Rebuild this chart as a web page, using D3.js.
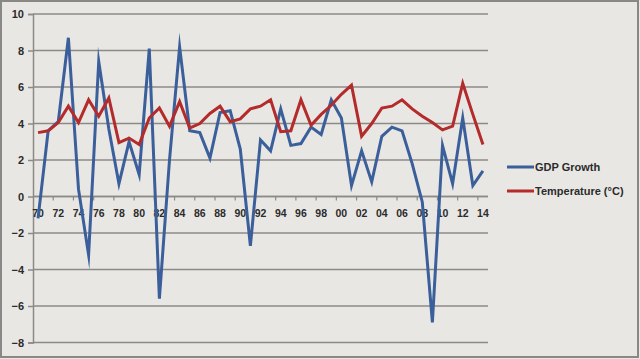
<!DOCTYPE html>
<html><head><meta charset="utf-8">
<script src="https://cdn.jsdelivr.net/npm/d3@7"></script>
<style>
html,body{margin:0;padding:0;background:#e9e7e4;}
svg{display:block;}
text{font-family:"Liberation Sans",Arial,sans-serif;font-weight:bold;fill:#2b2b2b;}
</style></head>
<body><svg id="c" width="640" height="359"></svg>
<script>
const years = d3.range(1970, 2015);
const gdpGrowth = [-1.2,3.6,4.1,8.7,0.4,-3.2,7.4,3.7,0.7,3.0,1.2,8.1,-5.6,2.0,8.2,3.6,3.5,2.1,4.6,4.7,2.6,-2.7,3.1,2.5,4.8,2.8,2.9,3.8,3.4,5.3,4.3,0.6,2.5,0.8,3.3,3.8,3.6,1.8,-0.3,-6.9,2.8,0.7,4.3,0.6,1.4];
const temperature = [3.5,3.6,4.05,4.95,4.05,5.3,4.4,5.4,2.95,3.2,2.85,4.3,4.85,3.85,5.2,3.75,4.0,4.55,4.95,4.1,4.25,4.8,4.95,5.3,3.55,3.6,5.3,3.9,4.5,5.0,5.6,6.1,3.3,4.0,4.85,4.95,5.3,4.8,4.4,4.05,3.65,3.85,6.2,4.5,2.85];
const yTicks = [-8,-6,-4,-2,0,2,4,6,8,10];
const seriesNames = ["GDP Growth","Temperature (°C)"];
const seriesColors = ["#3a5f9b","#b32b2b"];

const svg = d3.select("#c");
// outer frame
svg.append("rect").attr("x",1).attr("y",1).attr("width",637).attr("height",356)
  .attr("fill","#e9e7e4").attr("stroke","#8a8886").attr("stroke-width",2);

const x = d3.scaleBand().domain(years).range([33, 488]).padding(0);
const y = d3.scaleLinear().domain([-8,10]).range([342.5, 14]);

// gridlines
svg.append("g").selectAll("line").data(yTicks).join("line")
  .attr("x1",33).attr("x2",488)
  .attr("y1",d=>y(d)).attr("y2",d=>y(d))
  .attr("stroke","#8c8a87").attr("stroke-width",1.5);

// y axis
const ya = svg.append("g").attr("transform","translate(33,0)")
  .call(d3.axisLeft(y).tickValues(yTicks).tickSize(5).tickPadding(4).tickFormat(d3.format("d")));
ya.select(".domain").attr("stroke","#8c8a87").attr("stroke-width",1.5);
ya.selectAll(".tick line").attr("stroke","#8c8a87").attr("stroke-width",1.5);
ya.selectAll("text").attr("font-size","11px").style("font-family","Liberation Sans, Arial, sans-serif").style("font-weight","bold").attr("fill","#2b2b2b");

// x axis at y=0
const y0 = y(0);
const xg = svg.append("g");
xg.append("line").attr("x1",33).attr("x2",488).attr("y1",y0).attr("y2",y0)
  .attr("stroke","#8c8a87").attr("stroke-width",1.5);
const tickYears = years.filter((d,i)=>i%2===0);
xg.selectAll("line.tk").data(tickYears.slice(1).concat([2015].filter(()=>false))).join("line")
  .attr("class","tk")
  .attr("x1",d=>x(d)).attr("x2",d=>x(d))
  .attr("y1",y0).attr("y2",y0+4)
  .attr("stroke","#8c8a87").attr("stroke-width",1.2);
xg.selectAll("text").data(tickYears).join("text")
  .attr("x",d=>x(d)+x.bandwidth()/2)
  .attr("y",y0+20)
  .attr("text-anchor","middle")
  .attr("font-size","10.5px")
  .text(d=>String(d).slice(2));

// lines
const cx = d=>x(d)+x.bandwidth()/2;
const line = d3.line().x((d,i)=>cx(years[i])).y(d=>y(d));
svg.append("path").datum(gdpGrowth).attr("d",line)
  .attr("fill","none").attr("stroke",seriesColors[0]).attr("stroke-width",3).attr("stroke-linejoin","miter").attr("stroke-miterlimit",10);
svg.append("path").datum(temperature).attr("d",line)
  .attr("fill","none").attr("stroke",seriesColors[1]).attr("stroke-width",3).attr("stroke-linejoin","miter").attr("stroke-miterlimit",10);

// legend
const lg = svg.append("g").selectAll("g").data(seriesNames).join("g")
  .attr("transform",(d,i)=>`translate(507,${167+i*24})`);
lg.append("line").attr("x1",0).attr("x2",27).attr("y1",0).attr("y2",0)
  .attr("stroke",(d,i)=>seriesColors[i]).attr("stroke-width",3);
lg.append("text").attr("x",28).attr("y",4).attr("font-size","11px").text(d=>d);
</script></body></html>
